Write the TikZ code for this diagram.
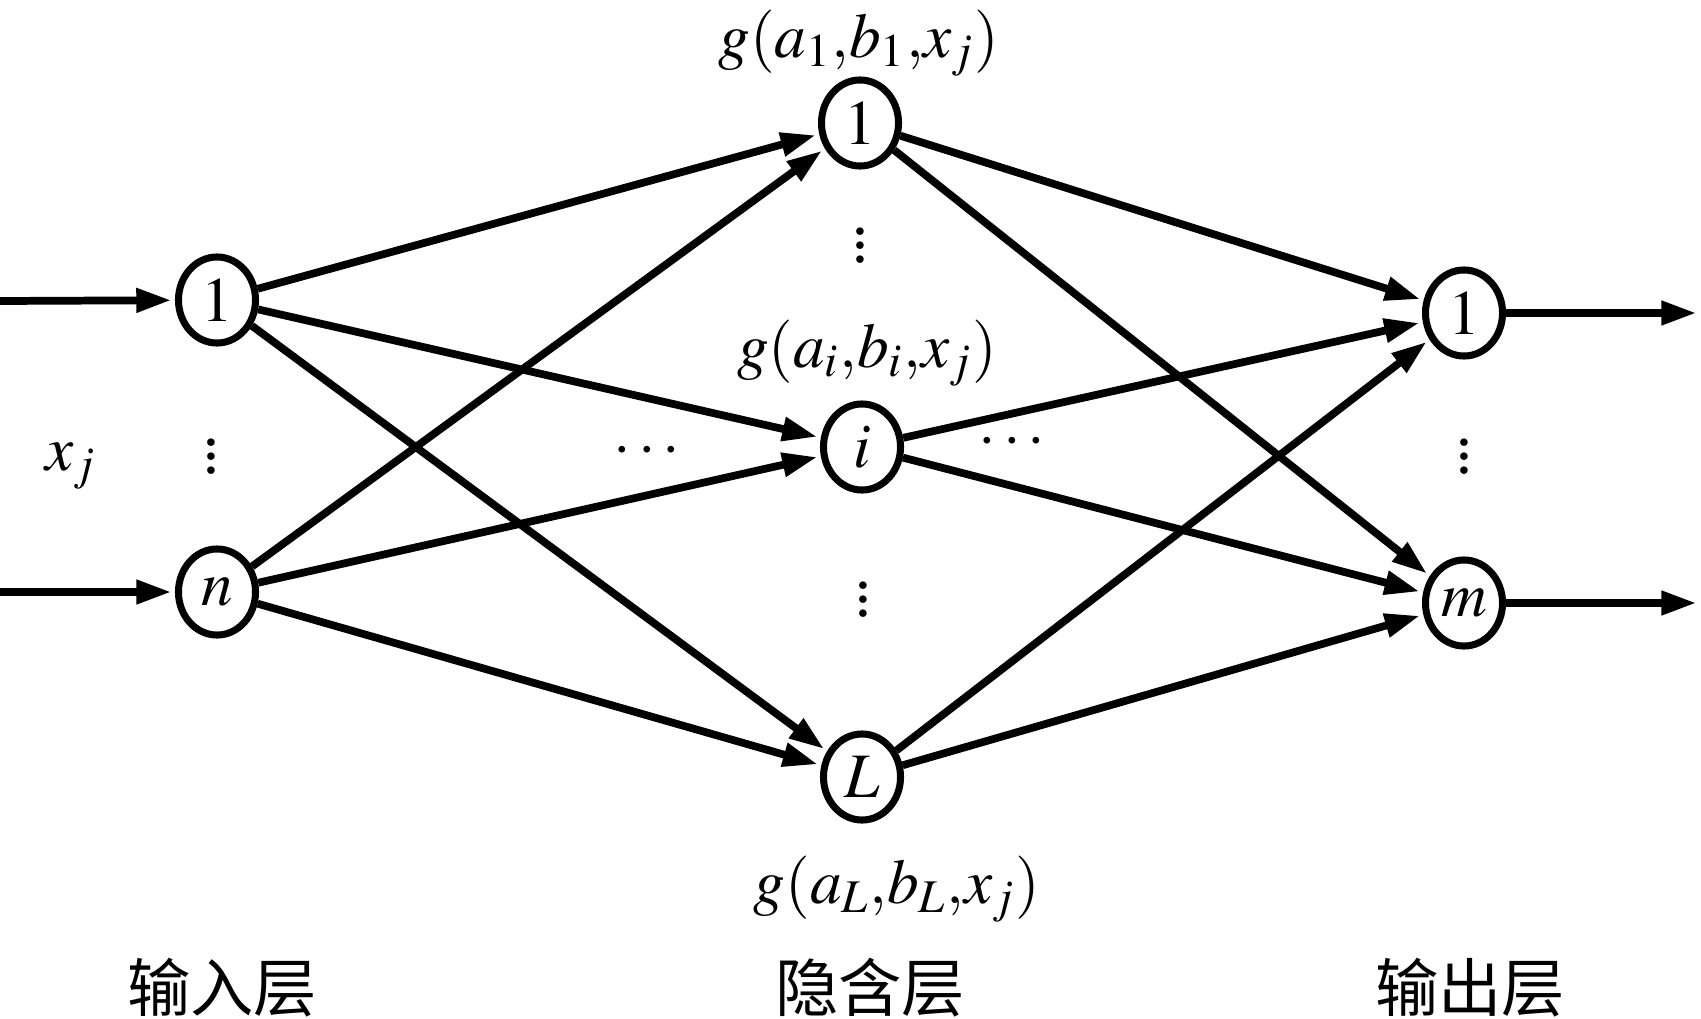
\documentclass[tikz,border=0pt]{standalone}
\usepackage{mathptmx}
\usepackage[no-math]{fontspec}
\setmainfont{Liberation Serif}
\newfontfamily\cjk{Noto Sans CJK SC}
\usetikzlibrary{arrows.meta,shapes.geometric}

\begin{document}
\begin{tikzpicture}[x=0.01cm,y=-0.01cm,shorten >=1pt,>={Triangle[length=10pt,width=6.5pt]},
    neuron/.style={ellipse,draw,line width=2pt,minimum width=0.77cm,minimum height=0.86cm,inner sep=0pt,font=\fontsize{18}{21}\selectfont},
    lbl/.style={inner sep=0pt,font=\fontsize{18}{21}\selectfont},
    layer/.style={inner sep=0pt,font=\cjk\fontsize{18}{21}\selectfont},
    every path/.style={line width=2.2pt}]
        \useasboundingbox (0,0) rectangle (1701,1018);
        % input layer
        \node[neuron] (i1) at (217,300) {$1$};
        \node[neuron] (in) at (217,592) {$n$};
        % hidden layer
        \node[neuron] (h1) at (860,123) {$1$};
        \node[neuron] (hi) at (862,447) {$i$};
        \node[neuron] (hL) at (862,777) {$L$};
        % output layer
        \node[neuron] (o1) at (1464,313) {$1$};
        \node[neuron] (om) at (1464,603) {$m$};
        \coordinate (x1) at (0,301);
        \coordinate (xn) at (0,592);
        \coordinate (y1) at (1700,313);
        \coordinate (ym) at (1700,603);
        % labels and dots
        \node[lbl,anchor=base] (g1) at (859,57) {$g(a_1{,}b_1{,}x_j)$};
        \node[lbl,anchor=base] (gi) at (867,367) {$g(a_i{,}b_i{,}x_j)$};
        \node[lbl,anchor=base] (gL) at (897,903) {$g(a_L{,}b_L{,}x_j)$};
        \node[lbl,anchor=base] (xj) at (71,470) {$x_j$};
        \node[lbl] (vd1) at (211,446) {$\vdots$};
        \node[lbl] (vd2) at (860,235) {$\vdots$};
        \node[lbl] (vd3) at (863,589) {$\vdots$};
        \node[lbl] (vd4) at (1464,446) {$\vdots$};
        \node[lbl] (hd1) at (647,452) {$\cdots$};
        \node[lbl] (hd2) at (1012,443) {$\cdots$};
        \node[layer] (l1) at (222,988) {输入层};
        \node[layer] (l2) at (870,988) {隐含层};
        \node[layer] (l3) at (1470,988) {输出层};
        % connections
        \draw [->] (x1) -- (i1);
        \draw [->] (xn) -- (in);
        \draw [->] (i1) -- (h1);
        \draw [->] (i1) -- (hi);
        \draw [->] (i1) -- (hL);
        \draw [->] (in) -- (h1);
        \draw [->] (in) -- (hi);
        \draw [->] (in) -- (hL);
        \draw [->] (h1) -- (o1);
        \draw [->] (h1) -- (om);
        \draw [->] (hi) -- (o1);
        \draw [->] (hi) -- (om);
        \draw [->] (hL) -- (o1);
        \draw [->] (hL) -- (om);
        \draw [->] (o1) -- (y1);
        \draw [->] (om) -- (ym);
    \end{tikzpicture}
\end{document}
